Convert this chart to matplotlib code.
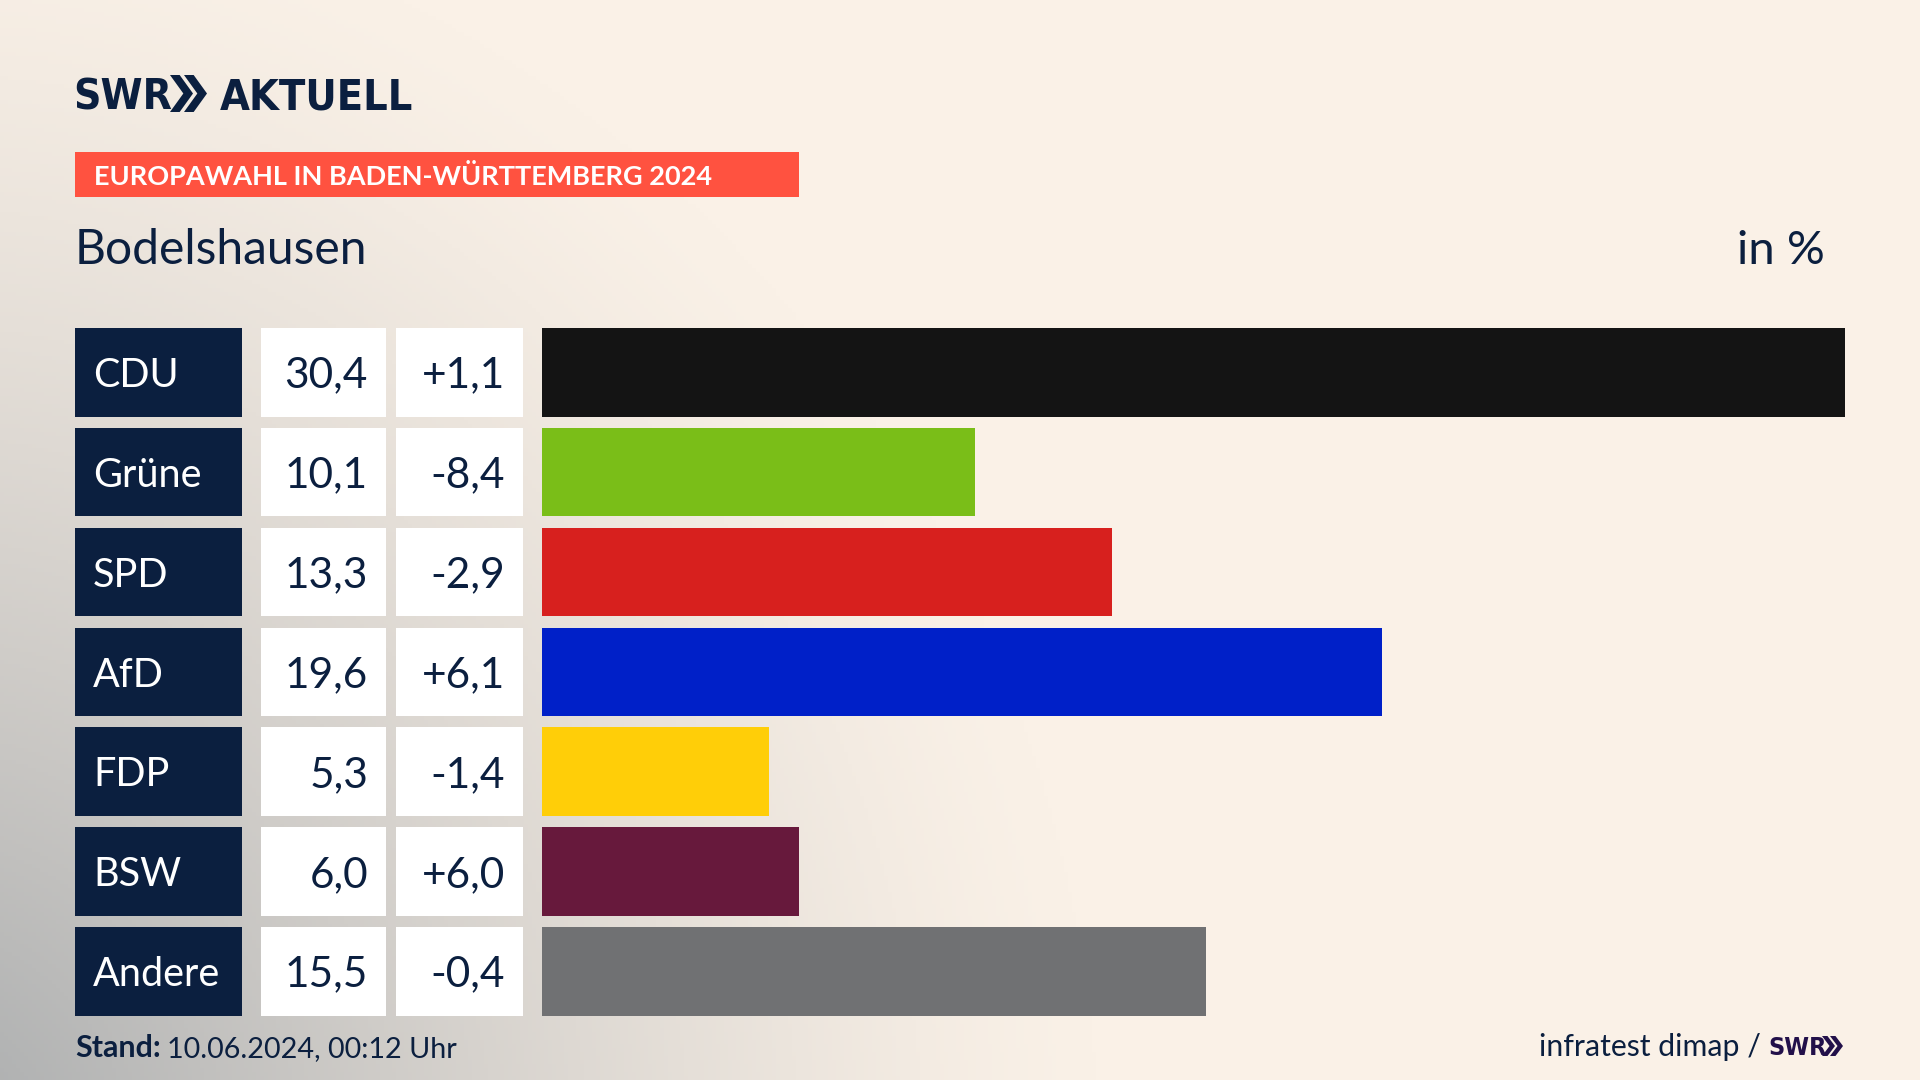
import numpy as np
import matplotlib
matplotlib.use("Agg")
from matplotlib import pyplot as plt
from matplotlib.patches import Rectangle, Polygon

parties = ["CDU", "Grüne", "SPD", "AfD", "FDP", "BSW", "Andere"]
shares = [30.4, 10.1, 13.3, 19.6, 5.3, 6.0, 15.5]
changes = ["+1,1", "-8,4", "-2,9", "+6,1", "-1,4", "+6,0", "-0,4"]
colors = ["#141414", "#7ABE18", "#D7201E", "#0020C8", "#FFCE08", "#67193C", "#707173"]

NAVY = "#0B1F3F"
PITCH = 99.85
ROW_H = 88.6
plt.rcParams['font.family'] = ['Lato', 'DejaVu Sans']

fig = plt.figure(figsize=(19.2, 10.8), dpi=100)

# background in pixel coordinates
bg = fig.add_axes([0, 0, 1, 1])
bg.set_xlim(0, 1920)
bg.set_ylim(1080, 0)
bg.axis('off')

yy, xx = np.mgrid[0:1080:270j, 0:1920:480j]
dist = np.hypot((xx + 100) / 1200, (yy - 1180) / 1300)
shade = np.clip(1 - dist, 0, 1) ** 1.3
base = np.array([250, 241, 231]) / 255
dark = np.array([165, 168, 170]) / 255
img = base + (dark - base) * shade[..., None]
bg.imshow(img, extent=(0, 1920, 1080, 0), aspect='auto', zorder=0)

# logo
def chevrons(x, top, bottom, w, step, color, n=2):
    mid = (top + bottom) / 2
    for i in range(n):
        x0 = x + i * step
        bg.add_patch(Polygon([(x0, top), (x0 + w * 0.42, top), (x0 + w, mid),
                              (x0 + w * 0.42, bottom), (x0, bottom), (x0 + w * 0.58, mid)],
                             closed=True, fc=color, ec='none', zorder=3))

bg.text(73, 110, "SWR", family='DejaVu Sans', stretch='condensed', weight='bold', fontsize=30.5,
        color=NAVY, va='baseline', ha='left')
chevrons(170, 75, 112, 23, 14, NAVY)
bg.text(220, 110, "AKTUELL", family='DejaVu Sans', stretch='condensed', weight='bold', fontsize=31,
        color=NAVY, va='baseline', ha='left')

# banner and titles
bg.add_patch(Rectangle((75, 152), 724, 45, fc="#FF5240", ec='none', zorder=2))
bg.text(94, 185, "EUROPAWAHL IN BADEN-WÜRTTEMBERG 2024", weight='bold', fontsize=19.5,
        color='white', va='baseline', ha='left', zorder=3)
bg.text(75, 264, "Bodelshausen", fontsize=34.6, color=NAVY, va='baseline', ha='left')
bg.text(1825, 264, "in %", fontsize=34, color=NAVY, va='baseline', ha='right')

# table cells
for i in range(len(parties)):
    top = 328 + i * PITCH
    bg.add_patch(Rectangle((75, top), 167, ROW_H, fc=NAVY, ec='none', zorder=2))
    bg.add_patch(Rectangle((261, top), 125, ROW_H, fc='white', ec='none', zorder=2))
    bg.add_patch(Rectangle((396, top), 127, ROW_H, fc='white', ec='none', zorder=2))
    bg.text(93, top + 59, parties[i], fontsize=28.5, color='white', va='baseline', ha='left', zorder=3)
    bg.text(368, top + 59.5, f"{shares[i]:.1f}".replace('.', ','), fontsize=30.5, color=NAVY,
            va='baseline', ha='right', zorder=3)
    bg.text(505, top + 59.5, changes[i], fontsize=30.5, color=NAVY, va='baseline', ha='right', zorder=3)

# footer
bg.text(75, 1057, "Stand:", weight='bold', fontsize=22, color=NAVY, va='baseline', ha='left')
bg.text(167, 1057, "10.06.2024, 00:12 Uhr", fontsize=20.7, color=NAVY, va='baseline', ha='left')
bg.text(1539, 1056, "infratest dimap /", fontsize=21.8, color=NAVY, va='baseline', ha='left')
bg.text(1768, 1055, "SWR", family='DejaVu Sans', stretch='condensed', weight='bold', fontsize=18,
        color="#22104A", va='baseline', ha='left')
chevrons(1822, 1036, 1056, 13, 8, "#22104A")

# bars, one row per unit of the y axis
ax_h = 6 * PITCH + ROW_H
ax = fig.add_axes([542 / 1920, 1 - (328 + ax_h) / 1080, (1845 - 542) / 1920, ax_h / 1080])
ax.barh(range(len(parties)), shares, height=ROW_H / PITCH, color=colors)
ax.set_xlim(0, 30.4)
ax.set_ylim(6 + ROW_H / PITCH / 2, -ROW_H / PITCH / 2)
ax.axis('off')

fig.savefig("out.png", dpi=100)
